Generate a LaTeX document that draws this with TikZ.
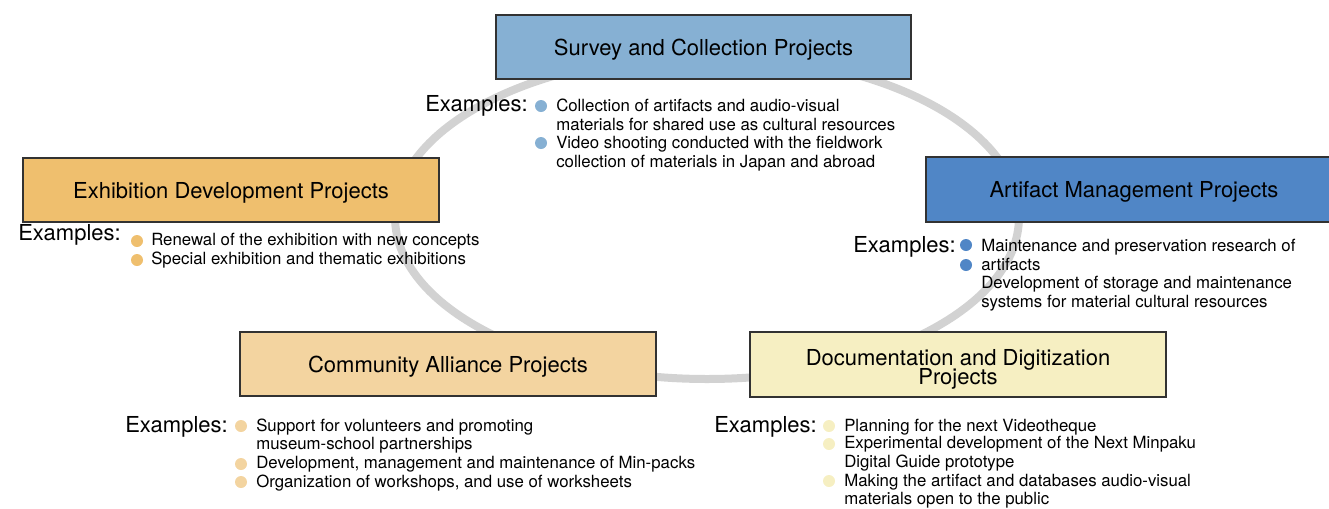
\documentclass[tikz,border=0pt]{standalone}
\usepackage{fontspec}
\setmainfont{TeX Gyre Heros}
\definecolor{surveyc}{RGB}{134,176,211}
\definecolor{exhc}{RGB}{239,191,110}
\definecolor{artc}{RGB}{80,134,198}
\definecolor{commc}{RGB}{243,212,160}
\definecolor{docc}{RGB}{246,239,194}
\definecolor{ringc}{RGB}{210,210,210}
\definecolor{edgec}{RGB}{50,50,50}
\tikzset{
  projbox/.style={draw=edgec, line width=0.8pt, inner sep=0pt, align=center,
    font=\fontsize{16.5}{16.5}\selectfont, minimum height=48pt,
    text height=12pt, text depth=0pt},
  exlabel/.style={anchor=base west, inner sep=0pt, font=\fontsize{16.5}{18}\selectfont},
  item/.style={anchor=base west, inner sep=0pt, font=\fontsize{12.6}{14}\selectfont},
  dot/.style={circle, inner sep=0pt, minimum size=9pt},
}
\begin{document}
\begin{tikzpicture}[x=0.75pt,y=-0.75pt]
\useasboundingbox (0,0) rectangle (1329,508);
% ring
\draw[ringc, line width=6pt] (707,217) ellipse [x radius=234pt, y radius=121.5pt];
% boxes
\node[projbox, fill=surveyc, minimum width=311.25pt] (survey) at (703.5,47) {Survey and Collection Projects};
\node[projbox, fill=exhc, minimum width=312pt] (exh) at (231,190) {Exhibition Development Projects};
\node[projbox, fill=artc, minimum width=304.5pt, minimum height=48.75pt] (art) at (1129,189.5) {\hspace*{7.5pt}Artifact Management Projects};
\node[projbox, fill=commc, minimum width=312pt] (comm) at (448,364) {Community Alliance Projects};
\node[projbox, fill=docc, minimum width=312pt, minimum height=48.75pt] (doc) at (958,364.5) {};
\node[anchor=north, align=center, inner sep=0pt, font=\fontsize{16.5}{16.5}\selectfont]
  (doct) at (958,349) {Documentation and Digitization\\[-2pt]Projects};
% survey examples
\node[exlabel] (sx) at (425,111) {Examples:};
\node[dot, fill=surveyc] (sb1) at (541,106) {};
\node[dot, fill=surveyc] (sb2) at (541,143) {};
\node[item] (s1) at (556,111) {Collection of artifacts and audio-visual};
\node[item] (s2) at (556,130) {materials for shared use as cultural resources};
\node[item] (s3) at (556,148) {Video shooting conducted with the fieldwork};
\node[item] (s4) at (556,167) {collection of materials in Japan and abroad};
% exhibition examples
\node[exlabel] (ex) at (18,240) {Examples:};
\node[dot, fill=exhc] (eb1) at (137,241) {};
\node[dot, fill=exhc] (eb2) at (137,260) {};
\node[item] (e1) at (151,245) {Renewal of the exhibition with new concepts};
\node[item] (e2) at (151,264) {Special exhibition and thematic exhibitions};
% artifact examples
\node[exlabel] (ax) at (853,252) {Examples:};
\node[dot, fill=artc] (ab1) at (966,245) {};
\node[dot, fill=artc] (ab2) at (966,265) {};
\node[item] (a1) at (981,251) {Maintenance and preservation research of};
\node[item] (a2) at (981,270) {artifacts};
\node[item] (a3) at (981,288) {Development of storage and maintenance};
\node[item] (a4) at (981,307) {systems for material cultural resources};
% community examples
\node[exlabel] (cx) at (125,432) {Examples:};
\node[dot, fill=commc] (cb1) at (241,426) {};
\node[dot, fill=commc] (cb2) at (241,464) {};
\node[dot, fill=commc] (cb3) at (241,482) {};
\node[item] (c1) at (256,431) {Support for volunteers and promoting};
\node[item] (c2) at (256,449) {museum-school partnerships};
\node[item] (c3) at (256,468) {Development, management and maintenance of Min-packs};
\node[item] (c4) at (256,487) {Organization of workshops, and use of worksheets};
% documentation examples
\node[exlabel] (dx) at (714,432) {Examples:};
\node[dot, fill=docc] (db1) at (829,426) {};
\node[dot, fill=docc] (db2) at (829,444) {};
\node[dot, fill=docc] (db3) at (829,481) {};
\node[item] (d1) at (844,431) {Planning for the next Videotheque};
\node[item] (d2) at (844,448) {Experimental development of the Next Minpaku};
\node[item] (d3) at (844,467) {Digital Guide prototype};
\node[item] (d4) at (844,486) {Making the artifact and databases audio-visual};
\node[item] (d5) at (844,504) {materials open to the public};
\end{tikzpicture}
\end{document}
